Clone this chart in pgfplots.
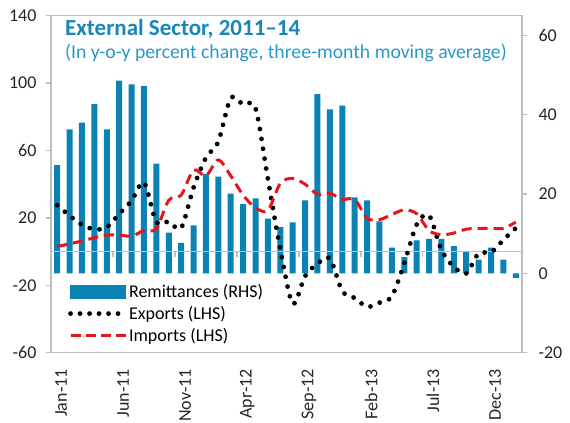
\documentclass[border=0pt]{standalone}
\usepackage{fontspec}
\setmainfont{Carlito}
\usepackage{pgfplots}
\pgfplotsset{compat=1.18}

\definecolor{barblue}{HTML}{0A82B4}
\definecolor{titleblue}{HTML}{1787BA}
\definecolor{subblue}{HTML}{2898C8}
\definecolor{spine}{HTML}{BFBFBF}
\definecolor{impred}{HTML}{E8141B}

\pgfplotsset{
  base/.style={
    at={(0,0)}, anchor=south west, scale only axis,
    width=471bp, height=337bp,
    xmin=-0.5, xmax=37.5,
    axis line style={spine, line width=1.3bp},
    major tick style={spine, line width=1.3bp},
    major tick length=5bp, tick align=outside,
    tick label style={font=\fontsize{18bp}{20bp}\selectfont, text=black!85},
    /pgf/number format/assume math mode=true,
  }
}

\begin{document}
\begin{tikzpicture}
\useasboundingbox (-51bp,-70.3bp) rectangle (519bp,352.7bp);

% remittances, right axis
\begin{axis}[base,
  ymin=-20, ymax=65, ytick={-20,0,20,40,60},
  axis x line=none, axis y line*=right,
  yticklabel style={xshift=8bp},
]
\addplot[ybar, bar width=6bp, fill=barblue, draw=none] coordinates {
  (0,27.3) (1,36.3) (2,38.0) (3,42.7) (4,36.3) (5,48.6) (6,47.7) (7,47.3)
  (8,27.7) (9,10.3) (10,7.7) (11,12.1) (12,25.1) (13,24.4) (14,20.1) (15,17.5)
  (16,18.9) (17,13.8) (18,11.7) (19,12.9) (20,18.4) (21,45.2) (22,41.4) (23,42.3)
  (24,19.2) (25,18.4) (26,13.1) (27,6.5) (28,4.1) (29,8.3) (30,8.7) (31,8.7)
  (32,6.9) (33,5.4) (34,3.5) (35,6.5) (36,3.5) (37,-1.1)
};
\end{axis}

% exports and imports, left axis
\begin{axis}[base,
  ymin=-60, ymax=140, ytick={-60,-20,20,60,100,140}, ytick pos=left,
  yticklabel style={xshift=-6bp},
  xtick={0,5,...,35},
  xticklabels={Jan-11,Jun-11,Nov-11,Apr-12,Sep-12,Feb-13,Jul-13,Dec-13},
  xtick pos=bottom, x tick label style={xshift=4bp, yshift=-8bp, rotate=90, anchor=east},
  xtick style={draw=none},
  extra y ticks={0}, extra y tick labels={},
  extra y tick style={grid=major, major grid style={spine, line width=1.3bp}, major tick length=0pt},
  legend style={at={(rel axis cs:0.036,0.21)}, anchor=north west,
    draw=none, fill=none, inner sep=0pt, row sep=3.5bp,
    font=\fontsize{18bp}{20bp}\selectfont,
    /tikz/every even column/.append style={column sep=6bp}},
  legend cell align=left,
]
\pgfplotsinvokeforeach{4.5,9.5,14.5,19.5,24.5,29.5,34.5}{
  \draw[spine, line width=1.3bp] (axis cs:#1,0) -- ([yshift=-5bp]axis cs:#1,0);
}
\addlegendimage{legend image code/.code={\fill[barblue] (0bp,-6.5bp) rectangle (55bp,6.5bp);}}
\addlegendentry{Remittances (RHS)}

\addplot[black, line width=4.8bp, line cap=round, dash pattern=on 0pt off 10bp, smooth,
  legend image code/.code={\draw[black, line width=4.8bp, line cap=round, dash pattern=on 0pt off 9.5bp] (0bp,0bp) -- (50bp,0bp);}]
coordinates {
  (0,27.5) (1,21.3) (2,15.9) (3,13.2) (4,14.4) (5,22.4) (6,30.2) (7,41)
  (8,17.5) (9,17.8) (10,14) (11,38) (12,55.7) (13,65.3) (14,91) (15,87.3)
  (16,85.1) (17,43) (18,1.5) (19,-30.9) (20,-14.5) (21,-7.2) (22,-4) (23,-23.5)
  (24,-27.5) (25,-32.8) (26,-30.3) (27,-26.5) (28,-7) (29,16) (30,21.5) (31,1)
  (32,-9) (33,-13) (34,-1) (35,-0.5) (36,7) (37,14)
};
\addlegendentry{Exports (LHS)}

\addplot[impred, line width=3bp, dash pattern=on 10bp off 6bp, smooth,
  legend image code/.code={\draw[impred, line width=3bp, dash pattern=on 10bp off 5bp] (0bp,0bp) -- (55bp,0bp);}]
coordinates {
  (0,3) (1,4.6) (2,6.3) (3,8.2) (4,9.8) (5,9.8) (6,9.2) (7,12.5)
  (8,13.5) (9,30.5) (10,33.5) (11,48.4) (12,45) (13,54.4) (14,45) (15,33.5)
  (16,26) (17,24.5) (18,40.5) (19,43.5) (20,40) (21,34) (22,34.6) (23,31)
  (24,31) (25,19.8) (26,19) (27,22) (28,24.8) (29,22.5) (30,12.5) (31,10)
  (32,11) (33,13.3) (34,13.8) (35,13.8) (36,13.8) (37,17.5)
};
\addlegendentry{Imports (LHS)}

\node[anchor=base west, inner sep=0pt, text=titleblue,
  font=\fontsize{23bp}{26bp}\selectfont\bfseries] at (axis cs:0.63,128.1) {External Sector, 2011--14};
\node[anchor=base west, inner sep=0pt, text=subblue,
  font=\fontsize{19.7bp}{22bp}\selectfont] at (axis cs:0.63,114.7) {(In y-o-y percent change, three-month moving average)};
\end{axis}
\end{tikzpicture}
\end{document}
